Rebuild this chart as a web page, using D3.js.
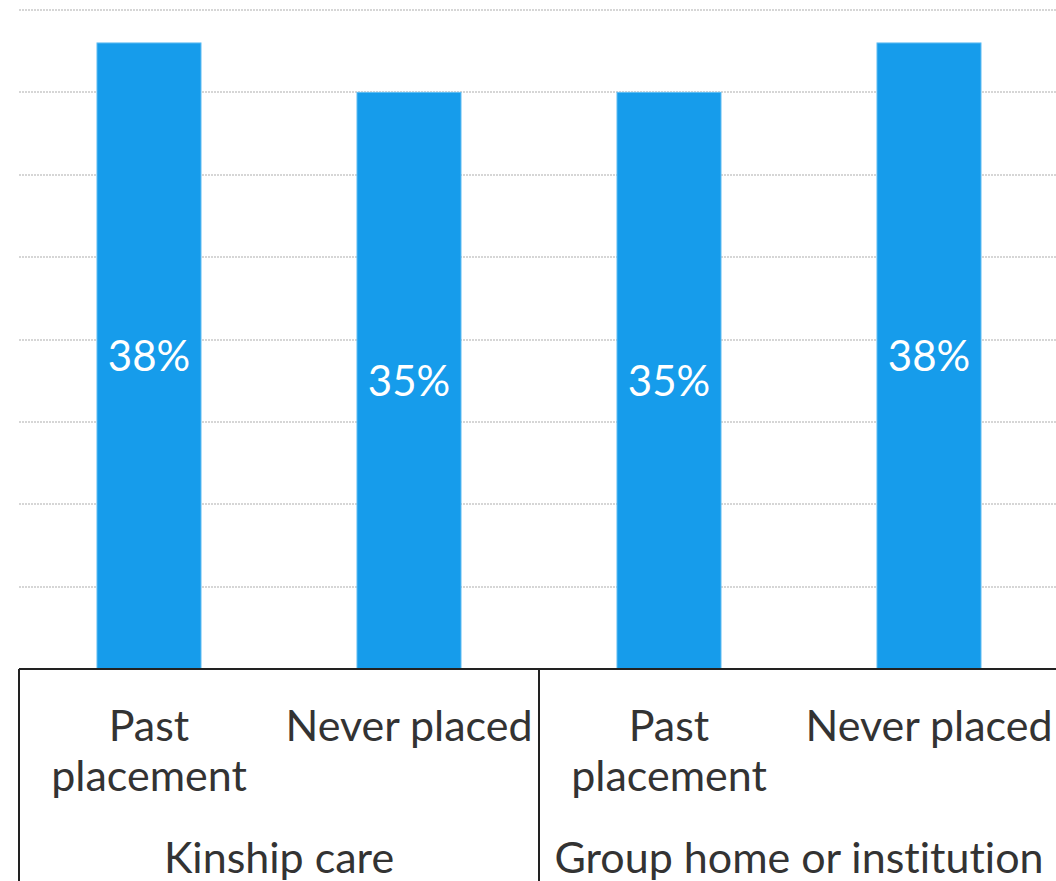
<!DOCTYPE html>
<meta charset="utf-8">
<style>
body { margin: 0; background: #fff; }
text { font-family: Lato, sans-serif; font-variant-ligatures: none; }
.grid line { stroke: #d6d6d6; stroke-width: 2; stroke-dasharray: 2,1; }
.bar { fill: #169ceb; stroke: #5fbcf2; stroke-width: 1; }
</style>
<svg width="1056" height="881"></svg>
<script src="https://cdn.jsdelivr.net/npm/d3@7"></script>
<script>

var groups = ["Kinship care", "Group home or institution"];
var subgroups = ["Past placement", "Never placed"];
var values = [38, 35, 35, 38];
var gridTicks = [5, 10, 15, 20, 25, 30, 35, 40];

var svg = d3.select("svg"),
    margin = {top: 10, right: -3, bottom: 212, left: 19},
    width = +svg.attr("width") - margin.left - margin.right,
    height = +svg.attr("height") - margin.top - margin.bottom;

var data = [];
groups.forEach(function(g, i) {
  subgroups.forEach(function(s, j) {
    data.push({group: g, sub: s, key: i + "-" + j, value: values[i * subgroups.length + j]});
  });
});

var x = d3.scaleBand().domain(data.map(function(d) { return d.key; }))
    .range([0, width]).paddingInner(0.6).paddingOuter(0.3);
var xg = d3.scaleBand().domain(groups).range([0, width]);
var y = d3.scaleLinear().domain([0, 40]).range([height, 0]);

var g = svg.append("g")
    .attr("transform", "translate(" + margin.left + "," + margin.top + ")");

// dotted gridlines
g.append("g")
    .attr("class", "grid")
  .selectAll("line")
  .data(gridTicks)
  .enter().append("line")
    .attr("x1", 0)
    .attr("x2", width)
    .attr("y1", function(d) { return Math.round(y(d)); })
    .attr("y2", function(d) { return Math.round(y(d)); });

g.selectAll(".bar")
  .data(data)
  .enter().append("rect")
    .attr("class", "bar")
    .attr("x", function(d) { return x(d.key); })
    .attr("y", function(d) { return y(d.value); })
    .attr("width", x.bandwidth())
    .attr("height", function(d) { return height - y(d.value); });

g.selectAll(".val")
  .data(data)
  .enter().append("text")
    .attr("class", "val")
    .attr("x", function(d) { return x(d.key) + x.bandwidth() / 2; })
    .attr("y", function(d) { return (y(d.value) + height) / 2; })
    .attr("dy", "0.36em")
    .attr("text-anchor", "middle")
    .style("font-size", "42px")
    .style("fill", "#fff")
    .text(function(d) { return d.value + "%"; });

// axis baseline and group separators
g.append("line")
    .attr("x1", 0).attr("x2", width)
    .attr("y1", height).attr("y2", height)
    .style("stroke", "#222").style("stroke-width", 2);

g.selectAll(".sep")
  .data(groups)
  .enter().append("line")
    .attr("class", "sep")
    .attr("x1", function(d) { return xg(d); })
    .attr("x2", function(d) { return xg(d); })
    .attr("y1", height)
    .attr("y2", height + margin.bottom)
    .style("stroke", "#222").style("stroke-width", 2);

// sub-category labels (wrapped)
g.selectAll(".sub")
  .data(data)
  .enter().append("text")
    .attr("class", "sub")
    .attr("text-anchor", "middle")
    .style("font-size", "43px")
    .style("fill", "#333")
    .each(function(d) {
      var t = d3.select(this);
      var cx = x(d.key) + x.bandwidth() / 2;
      var lines = d.sub === "Past placement" ? ["Past", "placement"] : [d.sub];
      lines.forEach(function(l, i) {
        t.append("tspan")
            .attr("x", cx)
            .attr("y", height + 72 + i * 50)
            .text(l);
      });
    });

g.selectAll(".grp")
  .data(groups)
  .enter().append("text")
    .attr("class", "grp")
    .attr("x", function(d) { return xg(d) + xg.bandwidth() / 2; })
    .attr("y", height + 204)
    .attr("text-anchor", "middle")
    .style("font-size", "43px")
    .style("fill", "#333")
    .text(function(d) { return d; });

</script>
